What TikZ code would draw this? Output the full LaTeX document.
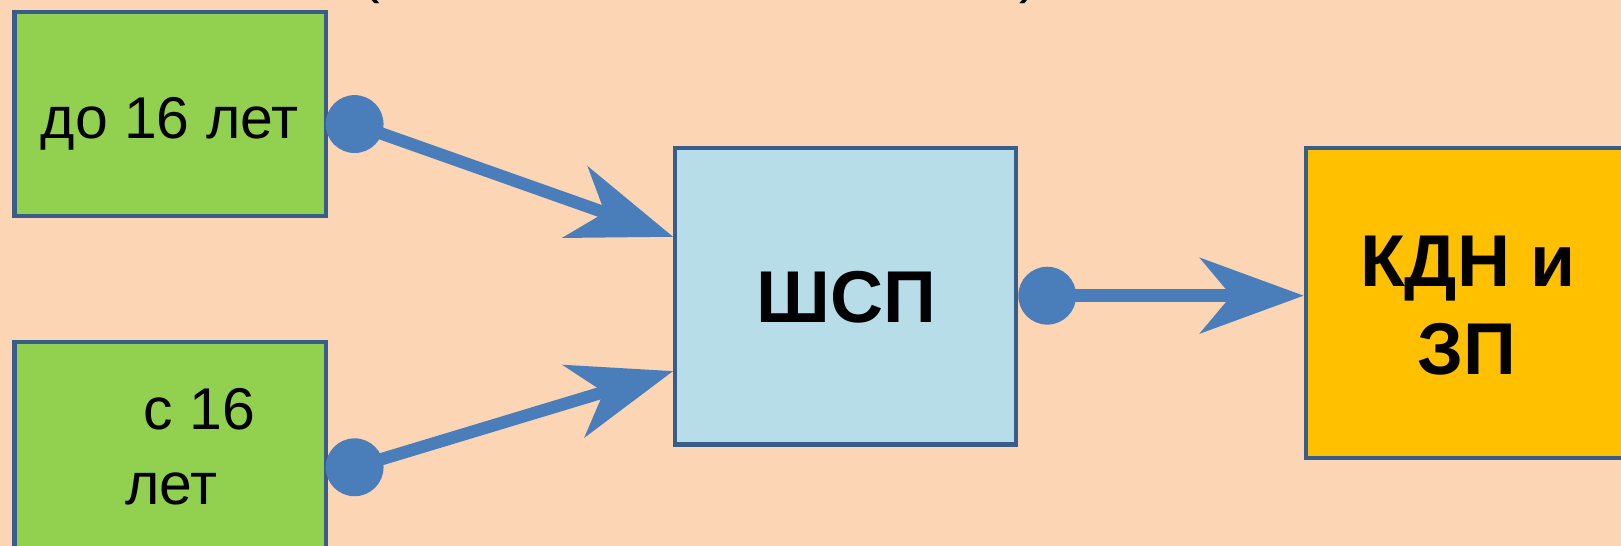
\documentclass[tikz,border=0pt]{standalone}
\usepackage{fontspec}
\setmainfont{Liberation Sans}
\usetikzlibrary{arrows.meta}
\definecolor{bgpeach}{HTML}{FCD5B5}
\definecolor{boxgreen}{HTML}{92D050}
\definecolor{boxblue}{HTML}{B7DEE8}
\definecolor{boxorange}{HTML}{FFC000}
\definecolor{edgeblue}{HTML}{385D8A}
\definecolor{arrowblue}{HTML}{4A7EBB}
\tikzset{
  box/.style={draw=edgeblue, line width=4pt, rectangle, inner sep=0pt},
  dot/.style={circle, fill=arrowblue, minimum size=56pt, inner sep=0pt},
  conn/.style={draw=arrowblue, line width=12pt,
    -{Stealth[length=101pt, width=74pt, inset=31pt, line width=0pt]}},
  reg/.style={font=\fontsize{57}{64}\selectfont, inner sep=0pt, anchor=base},
  bld/.style={font=\fontsize{71}{80}\selectfont\bfseries, inner sep=0pt, anchor=base}
}
\begin{document}
\begin{tikzpicture}[x=1pt, y=-1pt]
\fill[bgpeach] (0,0) rectangle (1568,528);
\useasboundingbox (0,0) rectangle (1568,528);
% cut-off heading fragments
\node[reg] (po) at (358,-8) {(};
\node[reg] (pc) at (996,-8) {)};
% boxes
\node[box, fill=boxgreen, minimum width=301pt, minimum height=197pt] (A) at (164.5,110.5) {};
\node[box, fill=boxgreen, minimum width=301pt, minimum height=260pt] (B) at (164.5,461) {};
\node[box, fill=boxblue, minimum width=330pt, minimum height=287pt] (C) at (818,286.5) {};
\node[box, fill=boxorange, minimum width=337pt, minimum height=300pt] (D) at (1431.5,293) {};
% texts
\node[reg] (ta) at (164,134) {до 16 лет};
\node[reg] (tb1) at (193,415) {с 16};
\node[reg] (tb2) at (166,488) {лет};
\node[bld] (tc) at (819,311.5) {ШСП};
\node[bld] (td1) at (1420,277.5) {КДН и};
\node[bld] (td2) at (1419,362.5) {ЗП};
% dots
\node[dot] (d1) at (343,120) {};
\node[dot] (d2) at (343,452) {};
\node[dot] (d3) at (1013,286) {};
% connectors
\draw[conn] (d1.center) -- ([yshift=57.5pt]C.west);
\draw[conn] (d2.center) -- ([yshift=-72.5pt]C.west);
\draw[conn] (d3.center) -- (d3.center -| D.west);
\end{tikzpicture}
\end{document}
